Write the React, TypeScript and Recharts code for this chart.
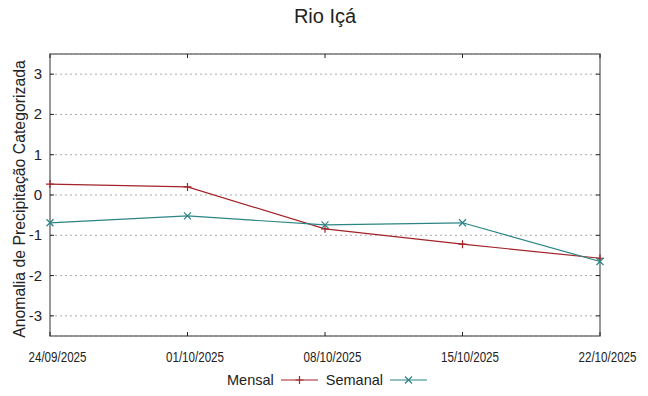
import { CartesianGrid, Line, LineChart, ReferenceArea, XAxis, YAxis } from 'recharts';

const dates = ['24/09/2025', '01/10/2025', '08/10/2025', '15/10/2025', '22/10/2025'];
const mensal = [0.27, 0.2, -0.84, -1.22, -1.57];
const semanal = [-0.69, -0.52, -0.74, -0.69, -1.65];
const yTicks = [-3, -2, -1, 0, 1, 2, 3];

const data = dates.map((date, i) => ({ date, mensal: mensal[i], semanal: semanal[i] }));

const W = 648;
const H = 396;
const LEFT = 50;
const RIGHT = 600;
const TOP = 54;
const BOTTOM = 336;
const FONT = '"Liberation Sans", Arial, sans-serif';
const RED = '#a32328';
const TEAL = '#2b8585';

function PlusDot(props: any) {
  const { cx, cy, index } = props;
  return (
    <path
      key={`p${index}`}
      d={`M${cx - 4},${cy}H${cx + 4}M${cx},${cy - 4}V${cy + 4}`}
      stroke={RED}
      strokeWidth={1.2}
      fill="none"
    />
  );
}

function CrossDot(props: any) {
  const { cx, cy, index } = props;
  return (
    <path
      key={`x${index}`}
      d={`M${cx - 3.5},${cy - 3.5}L${cx + 3.5},${cy + 3.5}M${cx - 3.5},${cy + 3.5}L${cx + 3.5},${cy - 3.5}`}
      stroke={TEAL}
      strokeWidth={1.2}
      fill="none"
    />
  );
}

function XTick(props: any) {
  const { x, y, payload } = props;
  return (
    <g>
      <line x1={x} x2={x} y1={BOTTOM} y2={BOTTOM - 4} stroke="#222" />
      <line x1={x} x2={x} y1={TOP} y2={TOP + 4} stroke="#222" />
      <text
        x={x + 7.5}
        y={y + 17.5}
        textAnchor="middle"
        fontSize={14}
        fill="#222"
        fontFamily={FONT}
        textLength={58}
        lengthAdjust="spacingAndGlyphs"
      >
        {payload.value}
      </text>
    </g>
  );
}

function YTick(props: any) {
  const { y, payload } = props;
  return (
    <g>
      <line x1={LEFT} x2={LEFT + 4} y1={y} y2={y} stroke="#222" />
      <line x1={RIGHT - 4} x2={RIGHT} y1={y} y2={y} stroke="#222" />
      <text x={LEFT - 8} y={y + 5} textAnchor="end" fontSize={15} fill="#222" fontFamily={FONT}>
        {payload.value}
      </text>
    </g>
  );
}

function LegendItem({ label, color, marker }: { label: string; color: string; marker: 'plus' | 'cross' }) {
  return (
    <div style={{ display: 'flex', alignItems: 'center', marginRight: 8 }}>
      <span style={{ marginRight: 7 }}>{label}</span>
      <svg width={37} height={12}>
        <line x1={0} x2={37} y1={6} y2={6} stroke={color} strokeWidth={1.2} />
        {marker === 'plus' ? (
          <path d="M14.5,6H22.5M18.5,2V10" stroke={color} strokeWidth={1.2} />
        ) : (
          <path d="M15,2.5L22,9.5M15,9.5L22,2.5" stroke={color} strokeWidth={1.2} />
        )}
      </svg>
    </div>
  );
}

export default function App() {
  return (
    <div
      style={{
        position: 'absolute',
        left: 0,
        top: 0,
        width: W,
        height: H,
        background: '#fff',
        fontFamily: FONT,
        color: '#222',
      }}
    >
      <div
        style={{
          position: 'absolute',
          top: 5,
          left: 0,
          width: 650,
          textAlign: 'center',
          fontSize: 20,
        }}
      >
        Rio Içá
      </div>
      <LineChart
        width={W}
        height={H}
        data={data}
        margin={{ top: TOP, right: W - RIGHT, bottom: 30, left: 0 }}
      >
        <CartesianGrid vertical={false} stroke="#aaa" strokeDasharray="2 3" />
        <XAxis
          dataKey="date"
          height={30}
          axisLine={false}
          tickLine={false}
          tick={<XTick />}
          interval={0}
        />
        <YAxis
          width={LEFT}
          domain={[-3.5, 3.5]}
          ticks={yTicks}
          axisLine={false}
          tickLine={false}
          tick={<YTick />}
          label={{
            value: 'Anomalia de Precipitação Categorizada',
            angle: -90,
            position: 'center',
            dx: -6,
            dy: 4,
            style: { fontSize: 15.8, fill: '#222', fontFamily: FONT },
          }}
        />
        <ReferenceArea
          x1={dates[0]}
          x2={dates[dates.length - 1]}
          y1={-3.5}
          y2={3.5}
          fill="none"
          stroke="#777"
          strokeWidth={1.5}
          ifOverflow="visible"
        />
        <Line
          dataKey="mensal"
          stroke={RED}
          strokeWidth={1.2}
          dot={PlusDot}
          activeDot={false}
          isAnimationActive={false}
        />
        <Line
          dataKey="semanal"
          stroke={TEAL}
          strokeWidth={1.2}
          dot={CrossDot}
          activeDot={false}
          isAnimationActive={false}
        />
      </LineChart>
      <div
        style={{
          position: 'absolute',
          top: 372,
          left: 227,
          display: 'flex',
          fontSize: 14.5,
        }}
      >
        <LegendItem label="Mensal" color={RED} marker="plus" />
        <LegendItem label="Semanal" color={TEAL} marker="cross" />
      </div>
    </div>
  );
}
